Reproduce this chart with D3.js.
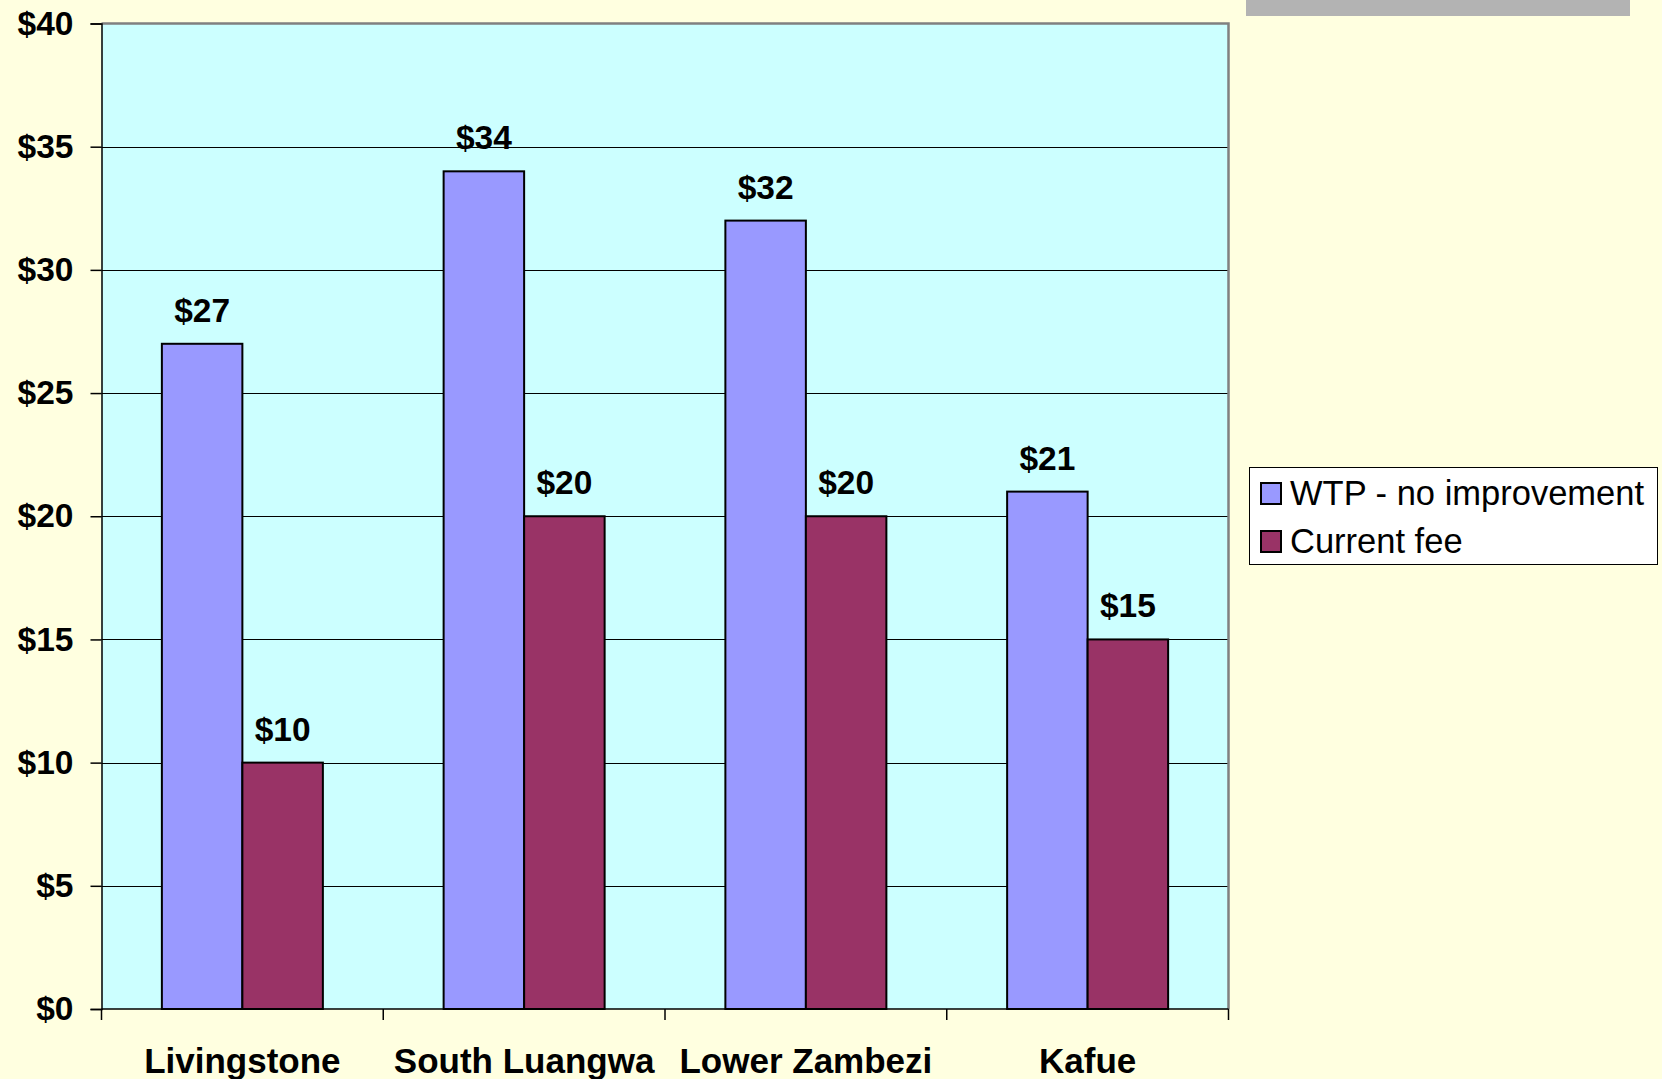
<!DOCTYPE html>
<html>
<head>
<meta charset="utf-8">
<script src="https://cdn.jsdelivr.net/npm/d3@7"></script>
<style>
  html, body { margin: 0; padding: 0; background: #ffffe0; }
  svg { display: block; }
  text { font-family: "Liberation Sans", Arial, sans-serif; }
</style>
</head>
<body>
<svg id="chart" width="1662" height="1079"></svg>
<script>
const categories = ["Livingstone", "South Luangwa", "Lower Zambezi", "Kafue"];
const seriesNames = ["WTP - no improvement", "Current fee"];
const wtpValues = [27, 34, 32, 21];
const feeValues = [10, 20, 20, 15];
const yTicks = [0, 5, 10, 15, 20, 25, 30, 35, 40];
const colors = ["#9999ff", "#993366"];

const svg = d3.select("#chart");
const W = 1662, H = 1079;
svg.append("rect").attr("width", W).attr("height", H).attr("fill", "#ffffe0");

// gray bar at top right
svg.append("rect").attr("x", 1246).attr("y", 0).attr("width", 384).attr("height", 16).attr("fill", "#b3b3b3");

const m = { left: 101.5, right: 1228.5, top: 23.5, bottom: 1009 };

const x0 = d3.scaleBand().domain(categories).range([m.left, m.right]).padding(0);
const x1 = d3.scaleBand().domain(seriesNames).range([0, x0.bandwidth()]).paddingInner(0).paddingOuter(0.75);
const y = d3.scaleLinear().domain([0, 40]).range([m.bottom, m.top]);

// plot area
svg.append("rect")
  .attr("x", m.left).attr("y", m.top)
  .attr("width", m.right - m.left).attr("height", m.bottom - m.top)
  .attr("fill", "#ccffff");

// gridlines
svg.append("g").selectAll("line").data(yTicks.filter(d => d > 0 && d < 40)).join("line")
  .attr("x1", m.left).attr("x2", m.right)
  .attr("y1", d => Math.round(y(d)) + 0.5).attr("y2", d => Math.round(y(d)) + 0.5)
  .attr("stroke", "#000").attr("stroke-width", 1);

// frame top/right gray
svg.append("path")
  .attr("d", `M${m.left},${m.top} H${m.right} V${m.bottom}`)
  .attr("fill", "none").attr("stroke", "#808080").attr("stroke-width", 2.5);

// bars
const data = categories.map((c, i) => ({ cat: c, vals: [wtpValues[i], feeValues[i]] }));
const groups = svg.append("g").selectAll("g").data(data).join("g")
  .attr("transform", d => `translate(${x0(d.cat)},0)`);

groups.selectAll("rect").data(d => d.vals.map((v, j) => ({ v, s: seriesNames[j], j }))).join("rect")
  .attr("x", d => x1(d.s))
  .attr("y", d => y(d.v))
  .attr("width", x1.bandwidth())
  .attr("height", d => y(0) - y(d.v))
  .attr("fill", d => colors[d.j])
  .attr("stroke", "#000").attr("stroke-width", 2);

groups.selectAll("text").data(d => d.vals.map((v, j) => ({ v, s: seriesNames[j], j }))).join("text")
  .attr("x", d => x1(d.s) + x1.bandwidth() / 2)
  .attr("y", d => y(d.v) - 22)
  .attr("text-anchor", "middle")
  .attr("font-weight", "bold").attr("font-size", 33.5)
  .text(d => "$" + d.v);

// y axis
const yAxis = d3.axisLeft(y).tickValues(yTicks).tickSize(11).tickPadding(17).tickFormat(d => "$" + d);
const gy = svg.append("g").attr("transform", `translate(${m.left},0)`).call(yAxis);
gy.select(".domain").attr("stroke", "#000").attr("stroke-width", 1.5);
gy.selectAll(".tick line").attr("stroke", "#000").attr("stroke-width", 1.5);
gy.selectAll(".tick text").attr("font-size", 33.5).attr("font-weight", "bold").attr("fill", "#000")
  .attr("font-family", "Liberation Sans, Arial, sans-serif");

// x axis
const gx = svg.append("g").attr("transform", `translate(0,${m.bottom})`);
gx.append("line").attr("x1", m.left).attr("x2", m.right).attr("y1", 0).attr("y2", 0)
  .attr("stroke", "#000").attr("stroke-width", 1.5);
const boundaries = categories.map(c => x0(c)).concat([x0(categories[categories.length - 1]) + x0.bandwidth()]);
gx.selectAll("line.tk").data(boundaries).join("line").attr("class", "tk")
  .attr("x1", d => d).attr("x2", d => d).attr("y1", 0).attr("y2", 11)
  .attr("stroke", "#000").attr("stroke-width", 1.5);
gx.selectAll("text").data(categories).join("text")
  .attr("x", d => x0(d) + x0.bandwidth() / 2)
  .attr("y", 64)
  .attr("text-anchor", "middle")
  .attr("font-weight", "bold").attr("font-size", 35)
  .text(d => d);

// legend
const lg = svg.append("g");
lg.append("rect").attr("x", 1249.5).attr("y", 467.5).attr("width", 408).attr("height", 97)
  .attr("fill", "#fff").attr("stroke", "#000").attr("stroke-width", 1);
seriesNames.forEach((s, i) => {
  const yy = 483 + i * 48;
  lg.append("rect").attr("x", 1261).attr("y", yy).attr("width", 20).attr("height", 21)
    .attr("fill", colors[i]).attr("stroke", "#000").attr("stroke-width", 2);
  lg.append("text").attr("x", 1290).attr("y", yy + 22).attr("font-size", 34.5).attr("fill", "#000").text(s);
});
</script>
</body>
</html>
